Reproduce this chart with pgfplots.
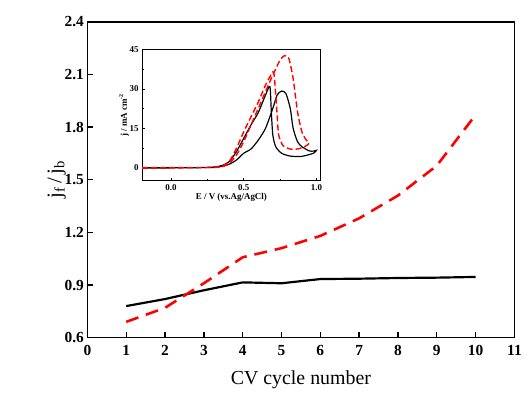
\documentclass[border=0pt]{standalone}
\usepackage{pgfplots}
\pgfplotsset{compat=1.18}
\usepackage{fontspec}
\setmainfont{Liberation Serif}
\begin{document}
\begin{tikzpicture}
\begin{axis}[name=main,
  scale only axis, width=430pt, height=318pt,
  xmin=0, xmax=11, ymin=0.6, ymax=2.4,
  xtick={0,1,...,11}, ytick={0.6,0.9,1.2,1.5,1.8,2.1,2.4},
  xticklabel={\pgfmathprintnumber[assume math mode=true]{\tick}},
  yticklabel={\pgfmathprintnumber[assume math mode=true, fixed, fixed zerofill, precision=1]{\tick}},
  tick label style={font=\fontsize{15.5}{15.5}\selectfont\bfseries},
  xticklabel style={yshift=-4pt},
  axis line style={line width=1.6pt},
  tick style={line width=1.4pt, black},
  major tick length=6pt,
  tick pos=left, tick align=inside,
  xlabel={CV cycle number}, xlabel style={font=\fontsize{20}{20}\selectfont, yshift=-8pt},
  ylabel={j\textsubscript{f}\,/\,j\textsubscript{b}}, ylabel style={font=\fontsize{21}{21}\selectfont, yshift=-8pt},
  clip=false,
]
\addplot[black, line width=2.2pt] coordinates {(1,0.78) (2,0.82) (3,0.87) (4,0.915) (5,0.91) (6,0.934) (7,0.936) (8,0.94) (9,0.942) (10,0.946)};
\addplot[red, line width=2.6pt, dash pattern=on 13pt off 8pt] coordinates {(1,0.69) (2,0.77) (3,0.91) (4,1.058) (5,1.11) (6,1.18) (7,1.28) (8,1.41) (9,1.58) (10,1.87)};
\end{axis}
\begin{axis}[at={(main.south west)}, anchor=south west, xshift=55pt, yshift=158pt,
  scale only axis, width=180pt, height=132pt,
  xmin=-0.2, xmax=1.03, ymin=-5, ymax=45,
  xtick={0,0.5,1}, ytick={0,15,30,45},
  minor xtick={-0.25,0.25,0.75}, minor ytick={7.5,22.5,37.5},
  xticklabel={\pgfmathprintnumber[assume math mode=true, fixed, fixed zerofill, precision=1]{\tick}},
  yticklabel={\pgfmathprintnumber[assume math mode=true]{\tick}},
  tick label style={font=\fontsize{9}{9}\selectfont\bfseries},
  axis line style={line width=1pt},
  tick style={line width=0.8pt, black},
  major tick length=3pt, minor tick length=2pt,
  tick pos=left, tick align=inside,
  xlabel={E / V (vs.Ag/AgCl)}, xlabel style={font=\fontsize{9}{9}\selectfont\bfseries, yshift=4pt},
  ylabel={j / mA cm\textsuperscript{-2}}, ylabel style={font=\fontsize{9}{9}\selectfont\bfseries, yshift=-6pt},
]
\addplot[black, line width=1.2pt, smooth, tension=0.4] coordinates {
(-0.2,0) (0,0) (0.2,0) (0.3,0.1) (0.35,0.5) (0.4,1.3) (0.45,2.9) (0.5,5.5) (0.55,7.1) (0.6,10.5) (0.65,15) (0.7,22.6) (0.73,27.7) (0.76,29.2) (0.79,28.3) (0.82,22.6) (0.84,15) (0.87,9.9) (0.9,8) (0.95,6.4) (0.98,6.3) (1.0,6.6)
(0.98,5.5) (0.9,4.3) (0.82,4.4) (0.76,5.5) (0.72,8) (0.70,12.5) (0.69,21) (0.68,30.9)
(0.65,27.7) (0.6,21) (0.55,16.3) (0.5,11.2) (0.45,6.1) (0.4,2.3) (0.35,0.8) (0.3,0.25) (0.2,0) (0,-0.1) (-0.2,-0.2)};
\addplot[red, line width=1.4pt, dash pattern=on 6pt off 3pt, smooth, tension=0.4] coordinates {
(-0.2,-0.2) (0,-0.1) (0.2,0) (0.3,0.1) (0.35,0.3) (0.4,1.6) (0.45,4.8) (0.5,9.9) (0.55,16.3) (0.6,22.6) (0.65,29) (0.7,35.3) (0.75,41) (0.78,42.7) (0.81,41.7) (0.84,34) (0.87,21.3) (0.9,13.7) (0.93,10.5) (0.95,9.3)
(0.92,8) (0.87,7.1) (0.82,7.1) (0.77,8.4) (0.74,12.5) (0.73,20) (0.72,27.7) (0.71,35) (0.70,36.5)
(0.65,31.5) (0.6,25) (0.55,19.4) (0.5,13.7) (0.45,7.4) (0.4,2.3) (0.35,0.6) (0.3,0.2) (0.2,0) (0,0) (-0.2,0)};
\end{axis}
\path[use as bounding box] ([shift={(-88pt,-59pt)}]main.south west) rectangle ([shift={(7pt,22pt)}]main.north east);
\end{tikzpicture}
\end{document}
